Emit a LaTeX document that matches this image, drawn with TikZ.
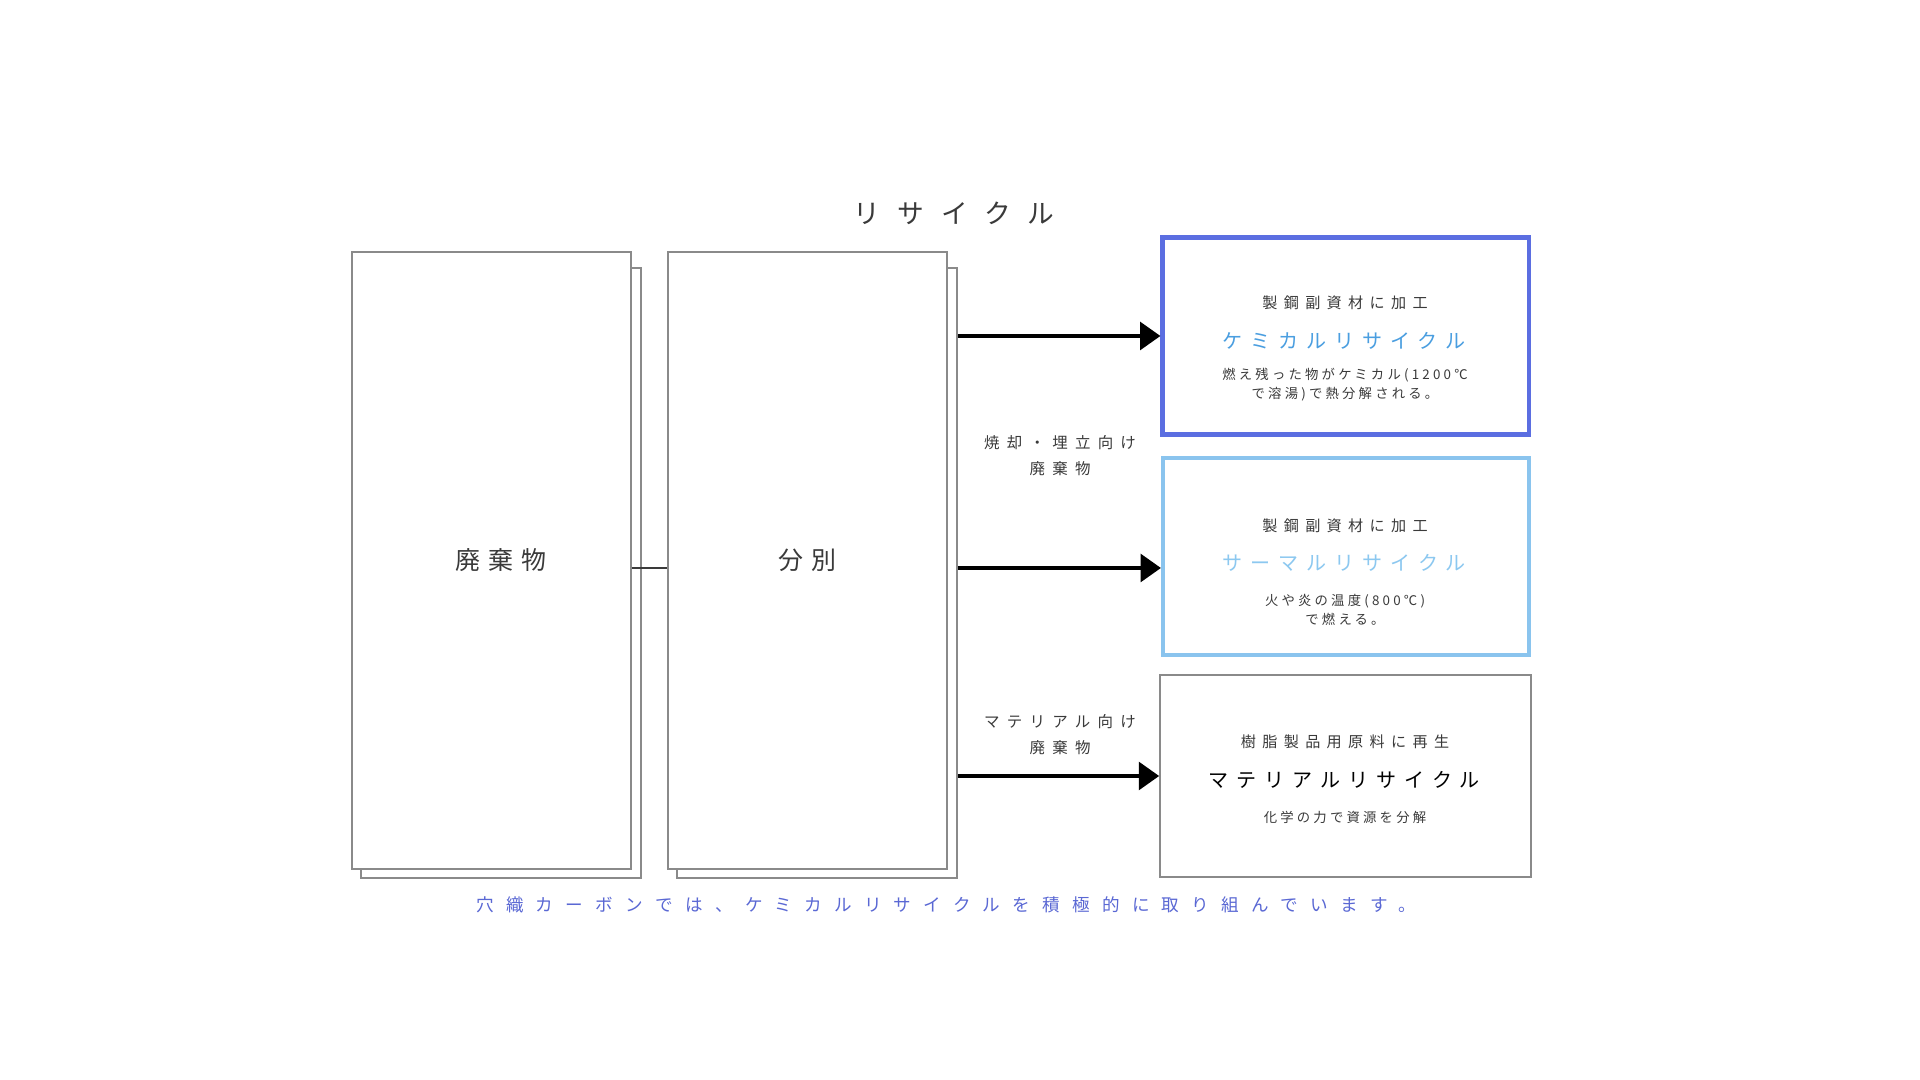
\documentclass[tikz,border=0pt]{standalone}
\usepackage{fontspec}
\setmainfont{Noto Sans CJK JP}
\usepackage{tikz}
\usetikzlibrary{arrows.meta}

\definecolor{boxgray}{HTML}{8A8A8A}
\definecolor{textgray}{HTML}{3A3A3A}
\definecolor{chemline}{HTML}{5B6EE1}
\definecolor{thermline}{HTML}{8AC4EE}
\definecolor{chemblue}{HTML}{4A9EE0}
\definecolor{thermblue}{HTML}{8CC8F0}
\definecolor{notice}{HTML}{5A68D4}

\tikzset{
  box/.style={draw=boxgray, line width=0.45pt, fill=white, inner sep=0pt},
  recycle/.style={draw=#1, line width=1.15pt, fill=white, inner sep=0pt,
    minimum width=3.66cm, minimum height=1.97cm},
  flow/.style={line width=1.3pt, -{Triangle[length=5.8pt, width=7.8pt]}},
  heading/.style={text=textgray, font=\fontsize{4.3}{5.4}\selectfont\addfontfeature{LetterSpace=42}},
  kind/.style={text=#1, font=\fontsize{5.7}{7}\selectfont\addfontfeature{LetterSpace=40}},
  note/.style={text=textgray, align=center, font=\fontsize{3.8}{5.4}\selectfont\addfontfeature{LetterSpace=24}},
  tag/.style={text=textgray, align=center, font=\fontsize{4.4}{7.4}\selectfont\addfontfeature{LetterSpace=47}}
}

\begin{document}
\begin{tikzpicture}
		%%%%% START %%%%%
		
		\fill[white] (0, 0) rectangle (19.2, 10.8);
		\useasboundingbox (0, 0) rectangle (19.2, 10.8);
		
		\node[text=textgray, font=\fontsize{7.6}{9}\selectfont\addfontfeature{LetterSpace=64}] (title) at (9.54, 8.67) {リサイクル};
		
		\node[box, minimum width=2.8cm, minimum height=6.1cm] (wasteback) at (5.01, 5.07) {};
		\node[box, minimum width=2.79cm, minimum height=6.17cm, text=textgray,
		  font=\fontsize{7.1}{8}\selectfont\addfontfeature{LetterSpace=32}] (waste) at (4.915, 5.195) {\hspace*{0.19cm}廃棄物};
		
		\node[box, minimum width=2.8cm, minimum height=6.1cm] (sortback) at (8.17, 5.07) {};
		\node[box, minimum width=2.79cm, minimum height=6.17cm, text=textgray,
		  font=\fontsize{7.1}{8}\selectfont\addfontfeature{LetterSpace=32}] (sort) at (8.075, 5.195) {分別};
		
		\coordinate (link) at (6.5, 5.12);
		\draw[draw=textgray, line width=0.3pt] (waste.east |- link) -- (sort.west |- link);
		
		\node[recycle=chemline] (chem) at (13.455, 7.44) {};
		\node[recycle=thermline] (thermal) at (13.46, 5.235) {};
		\node[box, minimum width=3.71cm, minimum height=2.02cm] (material) at (13.455, 3.04) {};
		
		\draw[flow] (sortback.east |- chem.west) -- (chem.west);
		\draw[flow] (sortback.east |- link) -- (link -| thermal.west);
		\draw[flow] (sortback.east |- material.west) -- (material.west);
		
		\node[tag] (burntag) at (10.60, 6.24) {焼却・埋立向け\\廃棄物};
		\node[tag] (materialtag) at (10.60, 3.45) {マテリアル向け\\廃棄物};
		
		\node[heading] (chemhead) at (13.45, 7.77) {製鋼副資材に加工};
		\node[kind=chemblue] (chemname) at (13.44, 7.39) {ケミカルリサイクル};
		\node[note] (chemnote) at (13.45, 6.95) {燃え残った物がケミカル(1200℃\\で溶湯)で熱分解される。};
		
		\node[heading] (thermhead) at (13.45, 5.54) {製鋼副資材に加工};
		\node[kind=thermblue] (thermname) at (13.44, 5.17) {サーマルリサイクル};
		\node[note] (thermnote) at (13.45, 4.705) {火や炎の温度(800℃)\\で燃える。};
		
		\node[heading] (materialhead) at (13.45, 3.38) {樹脂製品用原料に再生};
		\node[kind=black] (materialname) at (13.44, 3.0) {マテリアルリサイクル};
		\node[note] (materialnote) at (13.45, 2.63) {化学の力で資源を分解};
		
		\node[text=notice, font=\fontsize{5.0}{6}\selectfont\addfontfeature{LetterSpace=70}] (notice) at (9.46, 1.75)
		  {穴織カーボンでは、ケミカルリサイクルを積極的に取り組んでいます。};
		
		%%%%% END %%%%%
	\end{tikzpicture}
\end{document}
